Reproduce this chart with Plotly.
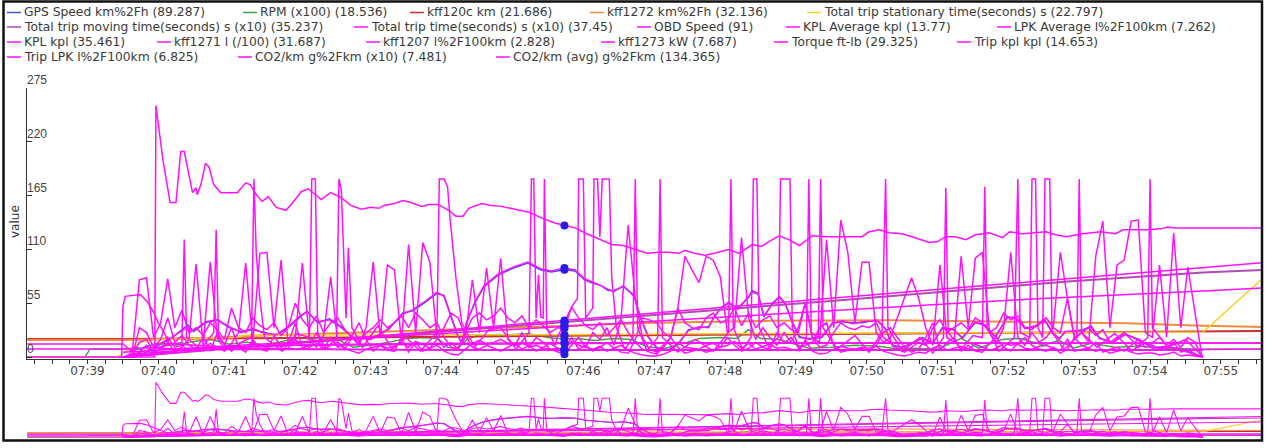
import pandas as pd
import plotly.graph_objects as go

# ---------------------------------------------------------------- time base
TRIP_START = pd.Timestamp("2019-06-14 07:39:30")
VIEW = ["2019-06-14 07:38:08.8", "2019-06-14 07:55:34.8"]
HOVER_S = 374                       # cursor position, seconds after trip start

# 6-second sample grid used by the fast engine channels
grid_s = list(range(2, 915, 6))     # 153 samples

y_ticks = [0, 55, 110, 165, 220, 275]

# ---------------------------------------------------------------- channels
# (seconds after trip start, value)
gps_speed = [(-81, 0), (0, 0), (10, 0), (20, 5), (30, 12), (40, 18), (50, 28), (55, 33), (60, 26), (70, 35),
             (80, 38), (90, 30), (100, 26), (110, 28), (120, 25), (130, 22), (140, 30), (150, 41), (156, 47),
             (165, 35), (175, 39), (185, 31), (195, 19), (210, 19), (225, 28), (237, 45), (245, 47), (255, 55),
             (266, 65), (272, 63), (277, 46), (283, 24), (287, 14), (291, 35), (298, 55), (306, 72), (318, 84),
             (331, 91), (343, 96), (354, 89), (363, 87), (374, 89.287), (383, 88), (391, 79), (397, 76),
             (405, 73), (411, 68), (416, 68), (424, 72), (433, 63), (438, 41), (445, 20), (452, 10), (462, 7),
             (471, 14), (479, 28), (488, 30), (496, 31), (501, 41), (507, 51), (513, 55), (521, 50), (530, 61),
             (533, 68), (538, 65), (543, 41), (550, 55), (556, 61), (561, 55), (567, 35), (573, 20), (581, 19),
             (592, 20), (601, 35), (609, 36), (618, 35), (626, 35), (639, 38), (646, 28), (652, 12), (660, 10),
             (669, 14), (677, 20), (686, 14), (694, 30), (703, 28), (711, 20), (722, 35), (730, 33), (739, 20),
             (749, 41), (756, 40), (764, 30), (773, 31), (781, 38), (787, 25), (793, 19), (798, 25), (813, 28),
             (820, 31), (827, 20), (838, 14), (849, 24), (861, 17), (872, 10), (883, 10), (895, 9), (906, 4),
             (915, 0)]

obd_speed = [(0, 0), (10, 0), (20, 4), (30, 13), (40, 19), (50, 27), (55, 30), (60, 27), (70, 36), (80, 38),
             (90, 31), (100, 25), (110, 29), (120, 24), (130, 23), (140, 31), (150, 42), (156, 46), (165, 36),
             (175, 38), (185, 30), (195, 20), (210, 18), (225, 29), (237, 44), (245, 48), (255, 56), (266, 66),
             (272, 62), (277, 45), (283, 23), (287, 15), (291, 34), (298, 56), (306, 73), (318, 85), (331, 92),
             (343, 97), (354, 90), (363, 88), (374, 91), (383, 89), (391, 80), (397, 77), (405, 73), (411, 69),
             (416, 67), (424, 73), (433, 62), (438, 42), (445, 21), (452, 9), (462, 7), (471, 15), (479, 27),
             (488, 31), (496, 30), (501, 42), (507, 50), (513, 56), (521, 49), (530, 62), (533, 67), (538, 64),
             (543, 42), (550, 54), (556, 62), (561, 54), (567, 36), (573, 21), (581, 18), (592, 21), (601, 34),
             (609, 37), (618, 34), (626, 36), (639, 37), (646, 29), (652, 11), (660, 10), (669, 15), (677, 19),
             (686, 15), (694, 29), (703, 29), (711, 19), (722, 36), (730, 32), (739, 21), (749, 40), (756, 41),
             (764, 29), (773, 32), (781, 37), (787, 26), (793, 18), (798, 26), (813, 27), (820, 32), (827, 19),
             (838, 15), (849, 23), (861, 18), (872, 9), (883, 11), (895, 8), (906, 3), (915, 0)]

rpm_x100 = [(-81, 0), (-32, 0), (-28, 8), (0, 8), (15, 8), (20, 11), (30, 14), (45, 12), (60, 16), (75, 18),
            (90, 13), (105, 15), (120, 12), (135, 16), (150, 20), (165, 17), (180, 19), (195, 10), (210, 12),
            (225, 15), (240, 19), (255, 20), (267, 19), (275, 10), (282, 9), (292, 18), (300, 22), (320, 22),
            (343, 24), (360, 20), (374, 18.536), (385, 19), (400, 17), (416, 19), (430, 18), (445, 10),
            (460, 9), (475, 14), (488, 19), (505, 20), (520, 19), (530, 28), (540, 19), (556, 18), (567, 14),
            (581, 9), (600, 10), (620, 12), (640, 11), (652, 9), (670, 9), (690, 8), (710, 19), (725, 9),
            (745, 18), (760, 19), (780, 12), (793, 17), (805, 9), (820, 14), (840, 10), (860, 11), (880, 9),
            (900, 8), (915, 8), (965, 8)]

kff120c_km = [(-81, 18.4), (0, 18.4), (100, 19.2), (200, 20.3), (300, 21.0), (374, 21.686), (500, 22.8),
              (600, 23.6), (700, 24.8), (800, 25.6), (915, 26.4), (965, 26.6)]

kff1272_kmh = [(-81, 17.5), (0, 17.5), (60, 19), (120, 22), (200, 25), (300, 29), (374, 32.136), (450, 35),
               (550, 37), (650, 37.5), (750, 36), (850, 34.5), (915, 32), (965, 30.7)]

stationary_s = [(-81, 0), (-5, 0), (15, 15), (30, 18), (95, 20), (105, 22.5), (374, 22.797), (452, 23.5),
                (650, 24.5), (780, 25), (915, 25.5), (965, 80)]

moving_x10 = [(0, 0), (100, 9.6), (200, 19.3), (300, 28.4), (374, 35.237), (500, 47.6), (600, 57.4),
              (700, 67.3), (800, 77.1), (915, 86.5), (965, 89)]

trip_time_x10 = [(0, 0), (100, 10), (200, 20), (300, 30), (374, 37.45), (500, 50), (600, 60), (700, 70),
                 (800, 80), (915, 91.5), (965, 96.5)]

kpl_average = [(-81, 13.3), (0, 13.3), (10, 3), (40, 6), (80, 10), (150, 12), (250, 13), (374, 13.77),
               (500, 14), (700, 14.2), (915, 14.3), (965, 14.3)]

lpk_average = [(-81, 8.2), (0, 8.2), (20, 9.5), (60, 7.8), (150, 7.6), (374, 7.262), (600, 7.1), (800, 7.3),
               (915, 7.8), (965, 8.2)]

kpl = [(0, 0), (30, 10), (50, 15), (52, 120), (54, 20), (66, 8), (77, 25), (79, 130), (81, 20), (92, 6),
       (100, 15), (109, 20), (111, 182), (113, 105), (116, 60), (120, 20), (135, 6), (147, 24), (158, 20),
       (160, 182), (163, 182), (165, 25), (172, 8), (181, 20), (183, 182), (185, 171), (189, 40), (191, 112),
       (194, 30), (203, 10), (216, 32), (228, 8), (240, 20), (252, 6), (266, 25), (268, 182), (272, 182),
       (275, 174), (277, 143), (282, 82), (287, 35), (298, 10), (310, 28), (320, 30), (333, 8), (344, 25),
       (346, 182), (348, 182), (350, 40), (352, 84), (354, 41), (356, 40), (357, 182), (359, 30), (366, 12),
       (368, 20), (374, 35.461), (380, 51), (385, 60), (386, 182), (390, 182), (392, 40), (398, 50), (399, 182),
       (402, 182), (404, 123), (406, 182), (412, 182), (414, 82), (418, 30), (425, 8), (432, 20), (434, 182),
       (436, 30), (444, 6), (453, 20), (455, 182), (457, 20), (470, 5), (485, 18), (500, 6), (513, 25),
       (515, 182), (517, 30), (525, 8), (532, 20), (534, 182), (537, 182), (539, 30), (547, 10), (555, 20),
       (557, 182), (565, 182), (567, 30), (573, 6), (579, 20), (581, 182), (583, 25), (589, 20), (591, 182),
       (593, 30), (605, 8), (620, 22), (632, 5), (643, 25), (646, 182), (648, 30), (660, 6), (675, 20),
       (686, 4), (695, 20), (697, 173), (699, 25), (710, 8), (720, 22), (728, 20), (730, 174), (732, 30),
       (742, 6), (755, 20), (758, 182), (760, 25), (768, 20), (770, 182), (773, 182), (775, 30), (779, 20),
       (781, 182), (785, 182), (787, 25), (797, 8), (808, 20), (810, 182), (812, 25), (825, 10), (840, 24),
       (855, 6), (868, 20), (870, 182), (872, 30), (885, 10), (900, 18), (915, 0)]

kff1271_l = [(0, 5), (100, 12), (200, 19.5), (300, 26.5), (374, 31.687), (500, 40.5), (600, 47.5), (700, 54.5),
             (770, 59.3), (915, 67.6), (965, 70.5)]

trip_kpl = [(0, 0), (30, 4), (60, 8), (100, 11), (160, 12.5), (250, 13.8), (374, 14.653), (500, 14.5),
            (700, 14.4), (915, 14.3), (965, 14.3)]

trip_lpk = [(-1, 0), (0, 52), (2, 62), (15, 64), (21, 56), (26, 46), (30, 35), (35, 25), (39, 14), (60, 12),
            (100, 9), (160, 8), (250, 7.2), (374, 6.825), (600, 6.9), (915, 7.0)]

co2_avg = [(-81, 0), (27, 0), (28, 257), (34, 201), (40, 158), (45, 158), (49, 210), (52, 210), (59, 168),
           (62, 173), (63, 166), (66, 176), (70, 198), (73, 194), (77, 176), (83, 168), (97, 168), (104, 178),
           (108, 176), (113, 166), (118, 159), (123, 164), (130, 153), (138, 150), (142, 155), (151, 169),
           (157, 172), (168, 161), (176, 168), (185, 163), (193, 155), (202, 151), (210, 153), (217, 152),
           (221, 155), (230, 157), (237, 160), (244, 158), (253, 154), (259, 156), (267, 156), (276, 150),
           (282, 144), (288, 144), (293, 152), (304, 157), (312, 155), (321, 154), (332, 151), (344, 148),
           (355, 142), (366, 137), (374, 134.365), (383, 132), (393, 126), (405, 120), (414, 115), (424, 114),
           (435, 110), (444, 106), (454, 107), (462, 107), (471, 106), (476, 109), (484, 106), (493, 104),
           (501, 106), (513, 110), (522, 106), (533, 115), (541, 113), (547, 118), (556, 124), (564, 120),
           (573, 114), (584, 124), (595, 123), (609, 123), (626, 123), (632, 128), (641, 130), (649, 127),
           (660, 126), (671, 122), (683, 117), (690, 118), (697, 123), (705, 123), (714, 120), (722, 125),
           (734, 127), (745, 122), (751, 128), (762, 126), (773, 127), (782, 128), (790, 125), (799, 123),
           (813, 126), (828, 128), (841, 126), (847, 130), (867, 130), (879, 131), (885, 133), (891, 132),
           (965, 132)]

# values on grid_s
kff1207_l100km = [0, 0, 5, 12, 4, 8, 15, 6, 10, 18,
                  95, 12, 97, 20, 8, 14, 25, 96, 15, 106,
                  107, 30, 99, 12, 20, 96, 18, 10, 22, 82,
                  15, 8, 20, 12, 30, 97, 20, 94, 89, 15,
                  115, 25, 117, 97, 20, 10, 15, 8, 20, 79,
                  25, 91, 30, 101, 18, 12, 25, 10, 20, 15,
                  8, 5, 2.828, 12, 20, 10, 25, 18, 30, 12,
                  40, 135, 60, 20, 8, 5, 12, 20, 50, 103,
                  89, 76, 103, 99, 82, 25, 30, 122, 40, 18,
                  30, 20, 12, 25, 15, 30, 55, 20, 15, 120,
                  30, 140, 107, 35, 97, 97, 25, 15, 20, 40,
                  60, 81, 60, 30, 12, 94, 20, 15, 103, 30,
                  101, 107, 25, 15, 30, 107, 20, 12, 25, 15,
                  20, 30, 107, 60, 18, 25, 15, 103, 139, 30,
                  94, 99, 139, 140, 25, 20, 94, 20, 127, 30,
                  92, 45, 0]

kff1273_kw = [0, 2, 15, 18, 5, 8, 20, 10, 12, 6,
              10, 8, 14, 10, 6, 12, 9, 8, 15, 11,
              10, 13, 7, 9, 18, 12, 10, 14, 8, 12,
              15, 9, 6, 4, 8, 10, 12, 9, 11, 15,
              10, 16, 13, 9, 12, 6, 3, 2, 8, 14,
              17, 13, 15, 18, 14, 12, 15, 10, 12, 9,
              8, 9, 7.687, 16, 12, 10, 8, 11, 6, 9,
              12, 7, 4, 2, 1, 1, 3, 6, 15, 10,
              9, 8, 12, 14, 10, 12, 16, 9, 14, 8,
              11, 13, 9, 10, 8, 7, 17, 6, 3, 4,
              8, 11, 9, 8, 10, 9, 11, 6, 4, 2,
              1, 3, 5, 4, 9, 12, 7, 9, 11, 8,
              13, 10, 7, 9, 14, 12, 13, 9, 8, 11,
              12, 9, 7, 18, 6, 8, 9, 6, 8, 4,
              6, 8, 5, 3, 4, 4, 2, 3, 5, 1,
              2, 1, 0]

torque_ftlb = [0, 5, 79, 81, 20, 35, 80, 30, 48, 25,
               30, 22, 35, 28, 18, 50, 30, 25, 40, 32,
               28, 35, 22, 30, 55, 38, 30, 42, 25, 35,
               40, 28, 20, 15, 25, 30, 38, 30, 35, 42,
               30, 45, 38, 30, 35, 20, 10, 8, 25, 40,
               45, 38, 42, 50, 40, 35, 42, 30, 38, 32,
               25, 30, 29.325, 51, 40, 32, 28, 35, 22, 30,
               38, 25, 15, 8, 5, 3, 10, 20, 50, 35,
               30, 28, 40, 45, 35, 38, 50, 32, 45, 30,
               38, 42, 30, 35, 28, 25, 55, 20, 10, 12,
               25, 35, 30, 28, 32, 30, 35, 20, 15, 8,
               5, 10, 15, 12, 30, 38, 25, 30, 35, 28,
               40, 35, 25, 30, 45, 38, 42, 30, 28, 35,
               40, 30, 25, 60, 20, 25, 30, 22, 28, 15,
               20, 25, 18, 10, 15, 12, 8, 10, 15, 5,
               8, 3, 0]

co2_km_x10 = [0, 0, 30, 25, 10, 18, 40, 15, 22, 12,
              8, 20, 6, 25, 12, 30, 10, 5, 18, 8,
              6, 22, 10, 14, 35, 9, 12, 25, 8, 20,
              10, 14, 22, 35, 18, 6, 12, 7, 6, 20,
              5, 15, 6, 9, 18, 30, 45, 40, 22, 10,
              8, 12, 9, 6, 10, 14, 8, 12, 6, 10,
              14, 9, 7.481, 20, 8, 12, 6, 10, 15, 9,
              5, 4, 18, 40, 38, 35, 25, 20, 10, 4,
              6, 8, 5, 7, 10, 20, 12, 6, 9, 15,
              10, 8, 25, 14, 20, 10, 12, 15, 30, 35,
              12, 5, 7, 8, 9, 6, 12, 25, 30, 20,
              10, 5, 8, 20, 35, 7, 15, 20, 6, 12,
              6, 5, 14, 20, 10, 6, 14, 20, 12, 8,
              6, 10, 4, 8, 20, 12, 9, 15, 5, 8,
              10, 6, 12, 18, 10, 15, 20, 12, 18, 10,
              20, 15, 0]

# ---------------------------------------------------------------- styling
BLUE, GREEN, RED, ORANGE = "#3b5bdb", "#43a047", "#cc2e2e", "#ef8c3c"
YELLOW, PURPLE, MAGENTA = "#f7cf2a", "#b04cb0", "#ff10ff"


def split(pairs):
    return [p[0] for p in pairs], [p[1] for p in pairs]


series = [
    ("GPS Speed km%2Fh", BLUE, 1.5, *split(gps_speed)),
    ("RPM (x100)", GREEN, 1.5, *split(rpm_x100)),
    ("kff120c km", RED, 2.0, *split(kff120c_km)),
    ("kff1272 km%2Fh", ORANGE, 2.0, *split(kff1272_kmh)),
    ("Total trip stationary time(seconds) s", YELLOW, 1.5, *split(stationary_s)),
    ("Total trip moving time(seconds) s (x10)", PURPLE, 2.0, *split(moving_x10)),
    ("Total trip time(seconds) s (x10)", MAGENTA, 1.5, *split(trip_time_x10)),
    ("OBD Speed", MAGENTA, 1.5, *split(obd_speed)),
    ("KPL Average kpl", MAGENTA, 1.5, *split(kpl_average)),
    ("LPK Average l%2F100km", MAGENTA, 1.5, *split(lpk_average)),
    ("KPL kpl", MAGENTA, 1.5, *split(kpl)),
    ("kff1271 l (/100)", MAGENTA, 1.5, *split(kff1271_l)),
    ("kff1207 l%2F100km", MAGENTA, 1.5, grid_s, kff1207_l100km),
    ("kff1273 kW", MAGENTA, 1.5, grid_s, kff1273_kw),
    ("Torque ft-lb", MAGENTA, 1.5, grid_s, torque_ftlb),
    ("Trip kpl kpl", MAGENTA, 1.5, *split(trip_kpl)),
    ("Trip LPK l%2F100km", MAGENTA, 1.5, *split(trip_lpk)),
    ("CO2/km g%2Fkm (x10)", MAGENTA, 1.5, grid_s, co2_km_x10),
    ("CO2/km (avg) g%2Fkm", MAGENTA, 1.5, *split(co2_avg)),
]

# legend slots: (line start x, row centre y) in page pixels
legend_slots = [(7, 12.5), (243, 12.5), (410, 12.5), (590, 12.5), (807, 12.5),
                (7, 27), (354, 27), (637, 27), (786, 27), (997, 27),
                (7, 42), (157, 42), (366, 42), (601, 42), (774, 42), (957, 42),
                (7, 57), (238, 57), (496, 57)]

W, H = 1266, 448
PLOT_L, PLOT_R = 27, 1262


def px(x):
    return (x - PLOT_L) / (PLOT_R - PLOT_L)


def py(y):
    return (H - y) / H


def to_time(secs):
    return [TRIP_START + pd.Timedelta(seconds=s) for s in secs]


fig = go.Figure()
hover_vals = []
for name, color, width, t, v in series:
    times = to_time(t)
    fig.add_trace(go.Scatter(x=times, y=v, mode="lines", name=name,
                             line=dict(color=color, width=width),
                             hoverinfo="skip", showlegend=False))
    fig.add_trace(go.Scatter(x=times, y=v, mode="lines", xaxis="x2", yaxis="y2",
                             line=dict(color=color, width=1.1),
                             hoverinfo="skip", showlegend=False))
    hover_vals.append(dict(zip(t, v))[HOVER_S])

# highlighted samples under the cursor
fig.add_trace(go.Scatter(x=to_time([HOVER_S] * len(hover_vals)), y=hover_vals, mode="markers",
                         marker=dict(size=8, color="#2a1be6"), hoverinfo="skip", showlegend=False))

# value legend across the top
annotations, shapes = [], []
for (name, color, _w, _t, _v), val, (lx, ly) in zip(series, hover_vals, legend_slots):
    shapes.append(dict(type="line", xref="paper", yref="paper",
                       x0=px(lx), x1=px(lx + 14), y0=py(ly), y1=py(ly),
                       line=dict(color=color, width=1.5)))
    annotations.append(dict(xref="paper", yref="paper", x=px(lx + 15), y=py(ly),
                            xanchor="left", yanchor="middle", showarrow=False,
                            text=f"{name} ({val:g})",
                            font=dict(family="DejaVu Sans", size=12.3, color="#3a3a3a")))

# y tick labels sit just above their tick marks, inside the plot
for v in y_ticks:
    annotations.append(dict(xref="paper", yref="y", x=0, y=v, xanchor="left", yanchor="bottom",
                            yshift=-1, xshift=-2, showarrow=False, text=str(v),
                            font=dict(family="Liberation Sans", size=12, color="#444444")))

annotations.append(dict(xref="paper", yref="paper", x=px(15), y=py(222), textangle=-90,
                        xanchor="center", yanchor="middle", showarrow=False, text="value",
                        font=dict(family="DejaVu Sans", size=12, color="#333333")))

# outer frame
shapes.append(dict(type="rect", xref="paper", yref="paper", layer="above",
                   x0=px(3.5), x1=px(1262), y0=py(1.5), y1=py(440.5),
                   line=dict(color="#111111", width=2.5)))

fig.update_layout(
    width=W, height=H,
    margin=dict(l=PLOT_L, r=W - PLOT_R, t=0, b=0),
    paper_bgcolor="white", plot_bgcolor="white",
    showlegend=False,
    annotations=annotations, shapes=shapes,
    xaxis=dict(range=VIEW, type="date", anchor="y", domain=[0, 1],
               showgrid=False, zeroline=False, showline=True, linecolor="#333333", linewidth=1,
               ticks="outside", ticklen=4, tickcolor="#333333",
               tick0="2019-06-14 07:39:00", dtick=60000, tickformat="%H:%M",
               ticklabelstandoff=-3,
               minor=dict(dtick=15000, ticks="outside", ticklen=4, tickcolor="#333333", showgrid=False),
               tickfont=dict(family="DejaVu Sans", size=12, color="#444444")),
    yaxis=dict(range=[-1.5, 275.3], domain=[py(358.5), py(87.7)], anchor="x",
               showgrid=False, zeroline=False, showline=True, linecolor="#333333", linewidth=1,
               tickvals=y_ticks, ticks="inside", ticklen=5, tickcolor="#333333",
               showticklabels=False),
    xaxis2=dict(range=VIEW, type="date", anchor="y2", domain=[0, 1], visible=False),
    yaxis2=dict(range=[-4, 275], domain=[py(437.9), py(378.4)], anchor="x2", visible=False),
)

fig.write_html("out.html")
